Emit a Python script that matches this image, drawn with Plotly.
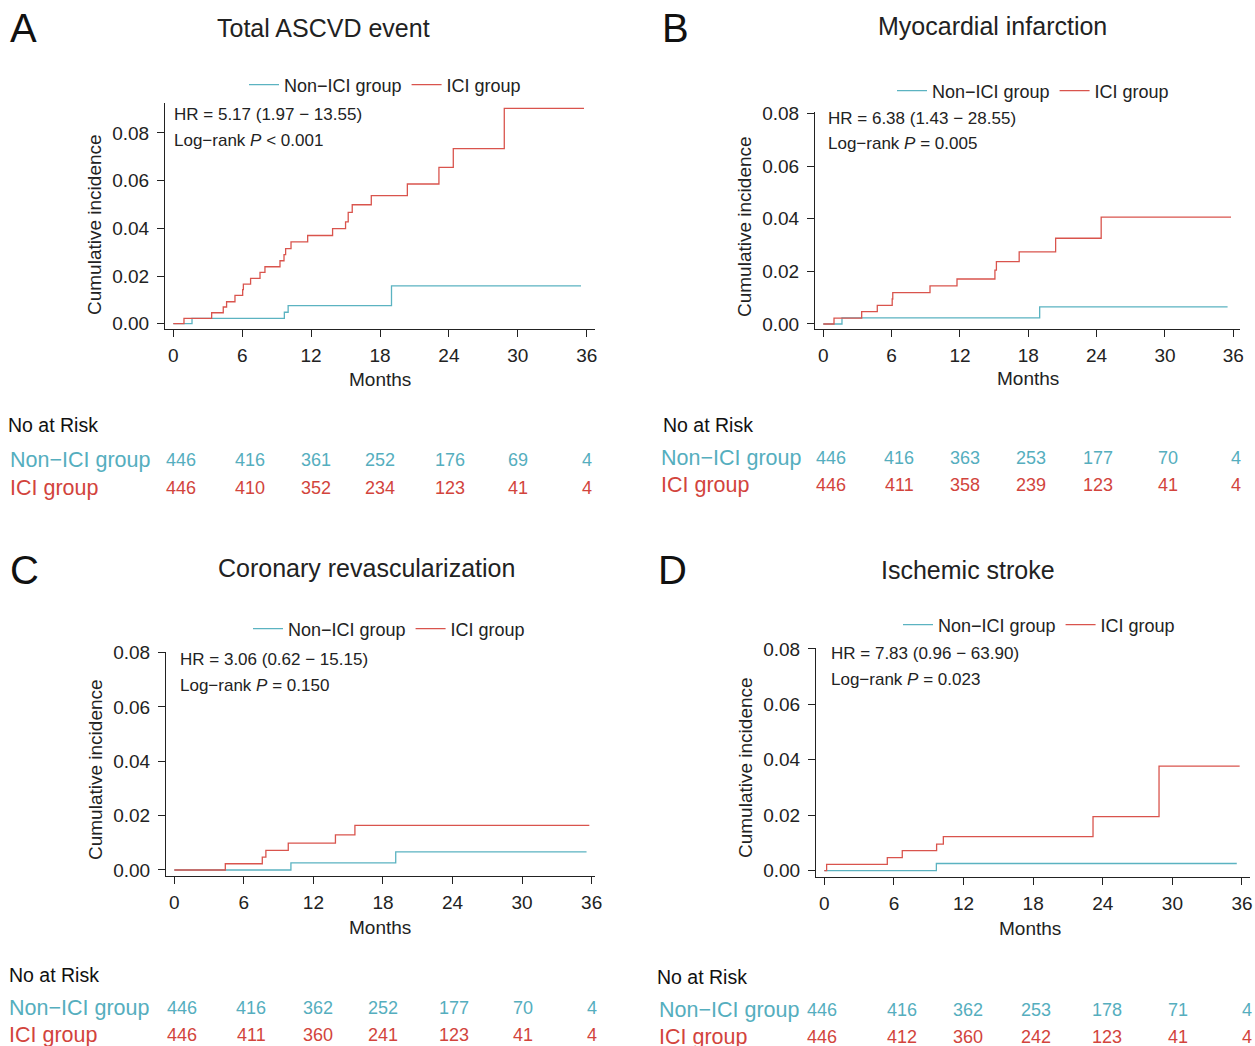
import plotly.graph_objects as go

W, H = 1255, 1046
TEAL = "#5BB3C1"
RED = "#D9544D"
TEAL_TXT = "#55AEBE"
RED_TXT = "#D2443C"
FONT = "Liberation Sans, Arial, Helvetica, sans-serif"

# ---------------- data ----------------
titles = ["Total ASCVD event", "Myocardial infarction", "Coronary revascularization", "Ischemic stroke"]
letters = ["A", "B", "C", "D"]
groups = ["Non\u2212ICI group", "ICI group"]
hr_text = ["HR = 5.17 (1.97 \u2212 13.55)", "HR = 6.38 (1.43 \u2212 28.55)",
           "HR = 3.06 (0.62 \u2212 15.15)", "HR = 7.83 (0.96 \u2212 63.90)"]
p_text = ["&lt; 0.001", "= 0.005", "= 0.150", "= 0.023"]
month_ticks = [0, 6, 12, 18, 24, 30, 36]
inc_ticks = [0.00, 0.02, 0.04, 0.06, 0.08]

A_non_t = [0, 1.63, 9.67, 10.0, 19.0, 35.5]
A_non_y = [0, 0.0022, 0.0048, 0.0076, 0.0159, 0.0159]
A_ici_t = [0, 0.93, 3.34, 4.35, 4.64, 5.37, 6.04, 6.1, 6.73, 7.55, 7.98, 9.29, 9.64, 9.78,
           10.25, 11.7, 13.87, 15.0, 15.23, 15.58, 17.24, 20.38, 23.13, 24.38, 28.82, 35.76]
A_ici_y = [0, 0.0022, 0.0046, 0.0070, 0.0092, 0.0119, 0.0143, 0.0166, 0.0190, 0.0215, 0.0239,
           0.0264, 0.0290, 0.0315, 0.0343, 0.0370, 0.0399, 0.0427, 0.0467, 0.0499, 0.0537,
           0.0586, 0.0656, 0.0734, 0.0903, 0.0903]

B_non_t = [0, 1.64, 19.0, 35.5]
B_non_y = [0, 0.0023, 0.0065, 0.0065]
B_ici_t = [0, 0.94, 3.37, 4.74, 6.05, 6.1, 9.37, 11.74, 15.07, 15.2, 17.2, 20.4, 24.4, 35.8]
B_ici_y = [0, 0.0022, 0.0047, 0.0071, 0.0095, 0.0119, 0.0145, 0.0171, 0.0205, 0.0237,
           0.0274, 0.0326, 0.0406, 0.0406]

C_non_t = [0, 10.06, 19.1, 35.56]
C_non_y = [0, 0.0026, 0.0067, 0.0067]
C_ici_t = [0, 4.4, 7.59, 7.9, 9.83, 13.9, 15.58, 35.8]
C_ici_y = [0, 0.0023, 0.0047, 0.0072, 0.0099, 0.0129, 0.0164, 0.0164]

D_non_t = [0, 9.66, 35.55]
D_non_y = [0, 0.0026, 0.0026]
D_ici_t = [0, 0.2, 5.43, 6.72, 9.68, 10.26, 23.16, 28.85, 35.8]
D_ici_y = [0, 0.0023, 0.0047, 0.0072, 0.0096, 0.0123, 0.0195, 0.0377, 0.0377]

A_risk_non = [446, 416, 361, 252, 176, 69, 4]
A_risk_ici = [446, 410, 352, 234, 123, 41, 4]
B_risk_non = [446, 416, 363, 253, 177, 70, 4]
B_risk_ici = [446, 411, 358, 239, 123, 41, 4]
C_risk_non = [446, 416, 362, 252, 177, 70, 4]
C_risk_ici = [446, 411, 360, 241, 123, 41, 4]
D_risk_non = [446, 416, 362, 253, 178, 71, 4]
D_risk_ici = [446, 412, 360, 242, 123, 41, 4]

curves = [
    (A_non_t, A_non_y, A_ici_t, A_ici_y),
    (B_non_t, B_non_y, B_ici_t, B_ici_y),
    (C_non_t, C_non_y, C_ici_t, C_ici_y),
    (D_non_t, D_non_y, D_ici_t, D_ici_y),
]
risks = [(A_risk_non, A_risk_ici), (B_risk_non, B_risk_ici),
         (C_risk_non, C_risk_ici), (D_risk_non, D_risk_ici)]

# ---------------- layout (pixel geometry) ----------------
def X(px):
    return px / W

def Y(py):
    return 1 - py / H

panels = [
    dict(l=165, r=595, t=102.7, b=329.0, xr=[-0.723, 36.72], yr=[-0.00222, 0.0927],
         letter=(8, 28), title=(323, 28), legend=(385, 85), hr=(172, 114, 140),
         xlab=(380, 379), ylab=(95, 225), risk=(6, 425, 8, 460, 488),
         cols=[181, 250, 316, 380, 450, 518, 587]),
    dict(l=815, r=1240, t=112.0, b=329.3, xr=[-0.729, 36.59], yr=[-0.00202, 0.0806],
         letter=(660, 28), title=(992, 26), legend=(1033, 91), hr=(826, 118, 143),
         xlab=(1028, 378), ylab=(745, 227), risk=(661, 425, 659, 458, 485),
         cols=[831, 899, 965, 1031, 1098, 1168, 1236]),
    dict(l=166, r=595, t=651.5, b=876.0, xr=[-0.716, 36.29], yr=[-0.00221, 0.0804],
         letter=(8, 570), title=(366, 568), legend=(389, 629), hr=(178, 659, 685),
         xlab=(380, 927), ylab=(95, 770), risk=(7, 975, 7, 1008, 1035),
         cols=[182, 251, 318, 383, 454, 523, 592]),
    dict(l=816, r=1250, t=647.5, b=876.7, xr=[-0.715, 36.69], yr=[-0.00217, 0.0805],
         letter=(656, 570), title=(968, 570), legend=(1039, 625), hr=(829, 653, 679),
         xlab=(1030, 928), ylab=(745, 768), risk=(655, 977, 657, 1010, 1037),
         cols=[822, 902, 968, 1036, 1107, 1178, 1247]),
]

fig = go.Figure()
annotations = []
layout_axes = {}
legends = {}

for i, (pn, cv, rk) in enumerate(zip(panels, curves, risks)):
    n = i + 1
    xa = "x" if n == 1 else f"x{n}"
    ya = "y" if n == 1 else f"y{n}"
    lg = "legend" if n == 1 else f"legend{n}"
    non_t, non_y, ici_t, ici_y = cv
    fig.add_trace(go.Scatter(x=non_t, y=non_y, mode="lines", line=dict(color=TEAL, width=1.3, shape="hv"),
                             name=groups[0], xaxis=xa, yaxis=ya, legend=lg, hoverinfo="skip"))
    fig.add_trace(go.Scatter(x=ici_t, y=ici_y, mode="lines", line=dict(color=RED, width=1.3, shape="hv"),
                             name=groups[1], xaxis=xa, yaxis=ya, legend=lg, hoverinfo="skip"))

    axis_common = dict(showgrid=False, zeroline=False, showline=True, linecolor="#222", linewidth=1,
                       ticks="outside", ticklen=7, tickwidth=1, tickcolor="#222", automargin=False,
                       tickfont=dict(family=FONT, size=19, color="#222"))
    layout_axes["xaxis" if n == 1 else f"xaxis{n}"] = dict(
        domain=[X(pn["l"]), X(pn["r"])], range=pn["xr"], anchor=ya,
        tickvals=month_ticks, ticklabelstandoff=2, **axis_common)
    layout_axes["yaxis" if n == 1 else f"yaxis{n}"] = dict(
        domain=[Y(pn["b"]), Y(pn["t"])], range=pn["yr"], anchor=xa,
        tickvals=inc_ticks, tickformat=".2f", ticklabelstandoff=4, **axis_common)

    legends[lg] = dict(orientation="h", x=X(pn["legend"][0]), y=Y(pn["legend"][1]),
                       xanchor="center", yanchor="middle", bgcolor="rgba(0,0,0,0)",
                       font=dict(family=FONT, size=18, color="#222"), itemwidth=30,
                       tracegroupgap=0)

    annotations.append(dict(text=letters[i], x=X(pn["letter"][0]), y=Y(pn["letter"][1]),
                            xref="paper", yref="paper", xanchor="left", yanchor="middle",
                            showarrow=False, font=dict(family=FONT, size=40, color="#111")))
    annotations.append(dict(text=titles[i], x=X(pn["title"][0]), y=Y(pn["title"][1]),
                            xref="paper", yref="paper", xanchor="center", yanchor="middle",
                            showarrow=False, font=dict(family=FONT, size=25, color="#222")))
    hx, hy1, hy2 = pn["hr"]
    annotations.append(dict(text=hr_text[i], x=X(hx), y=Y(hy1), xref="paper", yref="paper",
                            xanchor="left", yanchor="middle", showarrow=False,
                            font=dict(family=FONT, size=17, color="#222")))
    annotations.append(dict(text=f"Log\u2212rank <i>P</i> {p_text[i]}", x=X(hx), y=Y(hy2),
                            xref="paper", yref="paper", xanchor="left", yanchor="middle",
                            showarrow=False, font=dict(family=FONT, size=17, color="#222")))
    annotations.append(dict(text="Months", x=X(pn["xlab"][0]), y=Y(pn["xlab"][1]),
                            xref="paper", yref="paper", xanchor="center", yanchor="middle",
                            showarrow=False, font=dict(family=FONT, size=19, color="#222")))
    annotations.append(dict(text="Cumulative incidence", x=X(pn["ylab"][0]), y=Y(pn["ylab"][1]),
                            xref="paper", yref="paper", xanchor="center", yanchor="middle",
                            textangle=-90, showarrow=False,
                            font=dict(family=FONT, size=19, color="#222")))
    rx, ry, lx, r1, r2 = pn["risk"]
    annotations.append(dict(text="No at Risk", x=X(rx), y=Y(ry), xref="paper", yref="paper",
                            xanchor="left", yanchor="middle", showarrow=False,
                            font=dict(family=FONT, size=19.5, color="#111")))
    for label, row, vals, col in ((groups[0], r1, rk[0], TEAL_TXT), (groups[1], r2, rk[1], RED_TXT)):
        annotations.append(dict(text=label, x=X(lx), y=Y(row), xref="paper", yref="paper",
                                xanchor="left", yanchor="middle", showarrow=False,
                                font=dict(family=FONT, size=21.5, color=col)))
        for cx, v in zip(pn["cols"], vals):
            annotations.append(dict(text=str(v), x=X(cx), y=Y(row), xref="paper", yref="paper",
                                    xanchor="center", yanchor="middle", showarrow=False,
                                    font=dict(family=FONT, size=18, color=col)))

fig.update_layout(
    template="none",
    width=W, height=H, autosize=False,
    margin=dict(l=0, r=0, t=0, b=0, pad=0, autoexpand=False),
    paper_bgcolor="white", plot_bgcolor="white",
    font=dict(family=FONT, color="#222"),
    annotations=annotations,
    showlegend=True,
    **layout_axes,
    **legends,
)

fig.write_html("out.html", config={"displayModeBar": False},
               post_script="document.body.style.margin='0';document.body.style.overflow='hidden';")
